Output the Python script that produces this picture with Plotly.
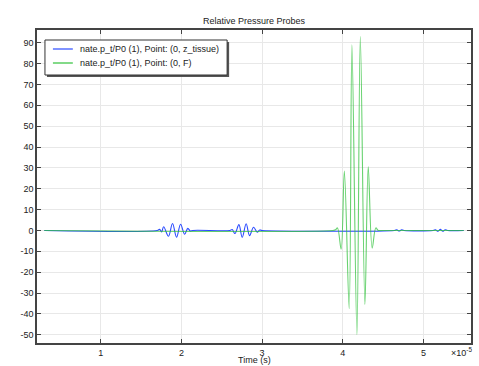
import plotly.graph_objects as go

# Time in units of 1e-5 s
t_blue = [0.3, 1.70, 1.73, 1.755, 1.78, 1.84, 1.89, 1.94, 1.99, 2.04, 2.08, 2.11, 2.14,
          2.60, 2.63, 2.664, 2.713, 2.754, 2.803, 2.845, 2.895, 2.94, 2.97, 3.0,
          4.64, 4.67, 4.70, 4.73, 4.76, 5.12, 5.15, 5.18, 5.21, 5.24, 5.27, 5.30, 5.5]
p_blue = [0, 0, 0.5, -0.7, 1.8, -2.8, 3.3, -3.3, 3.0, -1.8, 1.0, -0.3, 0,
          0, 0.4, -1.5, 2.8, -3.3, 3.2, -2.5, 1.5, -0.8, 0.2, 0,
          0, 0.3, -0.3, 0.3, 0, 0, 0.3, -0.4, 0.5, -0.4, 0.3, 0, 0]

t_green = [0.3, 3.88, 3.91, 3.935, 3.98, 4.02, 4.08, 4.114, 4.176, 4.218, 4.275,
           4.316, 4.365, 4.41, 4.44, 4.47, 5.5]
p_green = [0, 0, 0.3, 1.2, -9, 28.5, -37.5, 89, -50, 93, -35.5,
           30.5, -8.5, 1.2, 0, 0, 0]

series_names = ["nate.p_t/P0 (1), Point: (0, z_tissue)", "nate.p_t/P0 (1), Point: (0, F)"]
x_ticks = [1, 2, 3, 4, 5]
y_ticks = list(range(-50, 91, 10))

blue = "#2a4bff"
green = "#2fc23a"
font = "Liberation Sans"

fig = go.Figure()
fig.add_trace(go.Scatter(x=t_blue, y=p_blue, mode="lines", line=dict(color=blue, width=1.1, shape="spline"),
                         name=series_names[0], showlegend=False, hoverinfo="skip"))
fig.add_trace(go.Scatter(x=t_green, y=p_green, mode="lines", line=dict(color=green, width=1.1, shape="spline"),
                         opacity=0.72, name=series_names[1], showlegend=False, hoverinfo="skip"))

W, H = 479, 366
L, R, T, B = 37, 473, 30, 343
pw, ph = R - L, B - T

def px(x):
    return (x - L) / pw

def py(y):
    return (B - y) / ph

axis_common = dict(showline=True, linecolor="#444", linewidth=1.5, mirror="allticks",
                   ticks="inside", ticklen=4, tickcolor="#444", tickwidth=1,
                   showgrid=True, gridcolor="#e8e8e8", gridwidth=1, zeroline=False,
                   tickfont=dict(family=font, size=9, color="#222"))

fig.update_layout(
    width=W, height=H,
    margin=dict(l=L, r=W - R, t=T, b=H - B),
    paper_bgcolor="white", plot_bgcolor="white",
    xaxis=dict(range=[0.21, 5.59], tickvals=x_ticks, ticktext=[str(v) for v in x_ticks], **axis_common),
    yaxis=dict(range=[-53.97, 96.1], tickvals=y_ticks, ticktext=[str(v) for v in y_ticks], **axis_common),
    showlegend=False,
)

# Legend (manual)
shapes = []
shapes.append(dict(type="rect", xref="paper", yref="paper",
                   x0=px(47), x1=px(230), y0=py(77), y1=py(42),
                   line=dict(width=0), fillcolor="#555", layer="above"))
shapes.append(dict(type="rect", xref="paper", yref="paper",
                   x0=px(45), x1=px(228), y0=py(75), y1=py(40),
                   line=dict(width=1, color="#333"), fillcolor="white", layer="above"))
for yy, c in [(49, blue), (63, green)]:
    shapes.append(dict(type="line", xref="paper", yref="paper",
                       x0=px(53), x1=px(73), y0=py(yy), y1=py(yy),
                       line=dict(color=c, width=1.2), layer="above"))
fig.update_layout(shapes=shapes)

ann = []
for yy, name in [(49, series_names[0]), (63, series_names[1])]:
    ann.append(dict(xref="paper", yref="paper", x=px(78), y=py(yy), text=name, showarrow=False,
                    xanchor="left", yanchor="middle", font=dict(family=font, size=9, color="#222")))
ann.append(dict(xref="paper", yref="paper", x=px(255), y=py(21), text="Relative Pressure Probes",
                showarrow=False, xanchor="center", yanchor="middle", font=dict(family=font, size=9, color="#222")))
ann.append(dict(xref="paper", yref="paper", x=px(255), y=py(360), text="Time (s)",
                showarrow=False, xanchor="center", yanchor="middle", font=dict(family=font, size=9, color="#222")))
ann.append(dict(xref="paper", yref="paper", x=px(451), y=py(352), text="×10<sup>-5</sup>",
                showarrow=False, xanchor="left", yanchor="middle", font=dict(family=font, size=9, color="#222")))
fig.update_layout(annotations=ann)

fig.write_html("out.html", config={"displayModeBar": False},
               post_script="document.body.style.margin='0';document.body.style.overflow='hidden';")
